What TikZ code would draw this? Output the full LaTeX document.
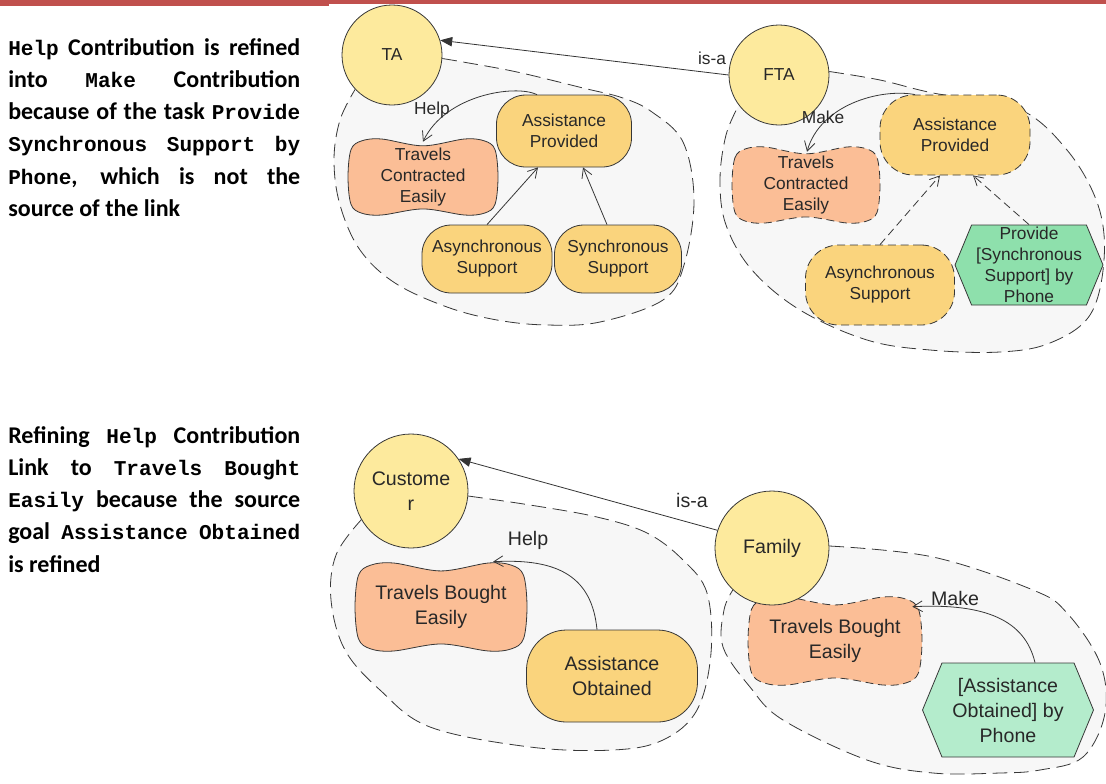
\documentclass[tikz,border=0pt]{standalone}
\usepackage{fontspec}
\setmainfont{Carlito}
\newfontfamily\diafont{Liberation Sans}
\newfontfamily\codefamily{Liberation Mono}
\usetikzlibrary{arrows.meta,shapes.symbols,calc}

\definecolor{barred}{RGB}{192,80,77}
\definecolor{actorc}{RGB}{253,234,157}
\definecolor{goalc}{RGB}{250,212,125}
\definecolor{softc}{RGB}{251,190,150}
\definecolor{taskc}{RGB}{142,224,172}
\definecolor{tasklc}{RGB}{180,236,204}
\definecolor{blobc}{RGB}{247,247,247}
\definecolor{linec}{RGB}{55,55,55}
\definecolor{inkc}{RGB}{40,40,40}

\pgfdeclarelayer{back}
\pgfdeclarelayer{shade}
\pgfsetlayers{back,shade,main}

\newcommand\codeword[1]{{\codefamily\fontsize{15.8}{24.2}\selectfont #1}}

% wavy outline of a softgoal, drawn behind the node
\newcommand\wavy[4][]{%
  \begin{pgfonlayer}{shade}
  \begin{scope}[shift={(#2.center)}, xscale=#3, yscale=#4]
  \draw[draw=linec, line width=0.6pt, fill=softc, #1] plot[smooth cycle, tension=0.55] coordinates {(-1,0) (-0.96,-0.72) (-0.82,-0.95) (-0.55,-1) (0,-0.82) (0.55,-1) (0.82,-0.95) (0.96,-0.72) (1,0) (0.96,0.72) (0.82,0.95) (0.55,1) (0,0.84) (-0.55,1) (-0.82,0.95) (-0.96,0.72)};
  \end{scope}
  \end{pgfonlayer}}

\tikzset{
  desc/.style={anchor=north west, inner sep=0pt, text width=219pt, align=justify,
    font=\fontsize{18}{24.2}\selectfont\bfseries},
  small/.style={font=\diafont\fontsize{13}{15.75}\selectfont},
  large/.style={font=\diafont\fontsize{14.7}{18.75}\selectfont},
  actor/.style={circle, draw=linec, line width=0.6pt, fill=actorc, text=inkc,
    minimum size=75pt, inner sep=0pt, align=center},
  goal/.style={rectangle, rounded corners=22pt, draw=linec, line width=0.6pt,
    fill=goalc, text=inkc, inner sep=0pt, align=center},
  softgoal/.style={rectangle, inner sep=0pt, align=center, text=inkc},
  task/.style={signal, signal to=west and east, signal pointer angle=135,
    draw=linec, line width=0.6pt, fill=taskc, text=inkc, inner sep=0pt, align=center},
  dashedge/.style={dash pattern=on 6pt off 3.5pt},
  blob/.style={draw=linec, fill=blobc, line width=0.6pt, dash pattern=on 11pt off 5pt},
  contrib/.style={draw=linec, line width=0.6pt, -{Straight Barb[length=7pt,width=8pt]}},
  isa/.style={draw=black!80, line width=0.6pt, -{Triangle[length=9pt,width=7pt]}},
  lbl/.style={text=inkc, inner sep=1pt},
}

\begin{document}
\begin{tikzpicture}[x=0.75pt,y=-0.75pt]
\useasboundingbox (0,0) rectangle (1106,783);
\fill[barred] (0,0) rectangle (1106,4);
\fill[barred] (0,0) rectangle (329,5.5);

% explanations
\node[desc] (why1) at (8,38) {\codeword{Help} Contribution is refined\linebreak
  into \codeword{Make} Contribution\linebreak
  because of the task \codeword{Provide}\linebreak
  \codeword{Synchronous} \codeword{Support} \codeword{by}\linebreak
  \codeword{Phone}, which is not the\linebreak
  source of the link};
\node[desc] (why2) at (8,426) {Refining \codeword{Help} Contribution\linebreak
  Link to \codeword{Travels} \codeword{Bought}\linebreak
  \codeword{Easily} because the source\linebreak
  goal \codeword{Assistance} \codeword{Obtained}\linebreak
  is refined};

% TA
\node[actor, small] (ta) at (392,55) {TA};
\node[softgoal, small, minimum width=112.5pt, minimum height=57pt] (tce) at (423,177) {Travels\\Contracted\\Easily};
\node[goal, small, minimum width=101.25pt, minimum height=54pt] (ap) at (564,131) {Assistance\\Provided};
\node[goal, small, minimum width=97.5pt, minimum height=51pt] (as) at (487,259) {Asynchronous\\Support};
\node[goal, small, minimum width=95.25pt, minimum height=51pt] (ss) at (618,259) {Synchronous\\Support};
\wavy{tce}{75}{38}
\draw[contrib] ($(ap.north)+(-27,0)$) .. controls (515,84) and (445,95) .. ($(tce.north)+(0,3)$);
\node[lbl, small] (help1) at (432,110) {Help};
\draw[contrib] (as.north) -- ($(ap.south)+(-26,0)$);
\draw[contrib] ($(ss.north)+(-11,0)$) -- ($(ap.south)+(19,0)$);

% FTA
\node[actor, small] (fta) at (779,75) {FTA};
\node[softgoal, small, minimum width=111pt, minimum height=57pt] (tce2) at (806,185) {Travels\\Contracted\\Easily};
\node[goal, small, dashedge, rounded corners=25pt, minimum width=112.5pt, minimum height=60pt] (ap2) at (955,135) {Assistance\\Provided};
\node[goal, small, dashedge, rounded corners=25pt, minimum width=111.75pt, minimum height=60pt] (as2) at (880,285) {Asynchronous\\Support};
\node[task, small, minimum width=111pt, minimum height=60pt] (pr) at (1029,265) {Provide\\{[}Synchronous\\Support] by\\Phone};
\wavy[dashedge]{tce2}{74}{38}
\draw[contrib] ($(ap2.north)+(-40,0)$) .. controls (880,88) and (820,105) .. ($(tce2.north)+(1,5)$);
\node[lbl, small] (make1) at (823,117) {Make};
\draw[contrib, dashedge] (as2.north) -- ($(ap2.south)+(-15,0)$);
\draw[contrib, dashedge] (pr.north) -- ($(ap2.south)+(18,0)$);

\draw[isa] (fta.180) -- (ta.17);
\node[lbl, small] (isa1) at (712,58) {is-a};

% Customer
\node[actor, large, minimum size=85.5pt] (cust) at (411,491) {Custome\\r};
\node[softgoal, large, minimum width=129pt, minimum height=66pt] (tbe) at (441,607) {Travels Bought\\Easily};
\node[goal, large, rounded corners=30pt, minimum width=128.25pt, minimum height=69pt] (ao) at (612,676) {Assistance\\Obtained};
\wavy{tbe}{86}{44}
\draw[contrib] ($(ao.north)+(-15,0)$) .. controls (592,578) and (560,558) .. ($(tbe.north)+(52,-1)$);
\node[lbl, large] (help2) at (528,540) {Help};

% Family
\node[actor, large, minimum size=85.5pt] (fam) at (772,548) {Family};
\node[softgoal, large, minimum width=130.5pt, minimum height=66pt] (tbe2) at (835,641) {Travels Bought\\Easily};
\node[task, large, fill=tasklc, minimum width=128.25pt, minimum height=70.5pt] (ph) at (1008,710) {{[}Assistance\\Obtained] by\\Phone};
\wavy[dashedge]{tbe2}{87}{44}
\draw[contrib] ($(ph.north)+(27,0)$) .. controls (1025,620) and (985,603) .. ($(tbe2.north east)+(-10,10)$);
\node[lbl, large] (make2) at (955,598) {Make};

\draw[isa] (fam.162) -- (cust.34);
\node[lbl, large] (isa2) at (692,500) {is-a};

% group boundaries
\begin{pgfonlayer}{back}
\draw[blob] plot[smooth, tension=0.6] coordinates {(ta.-4) (463,62) (517,72) (583,88) (623,98) (652,112) (683,142) (694,200) (684,265) (663,300) (600,322) (547,325) (497,320) (447,307) (395,283) (360,250) (340,205) (334,160) (340,120) (ta.-137)};
\draw[blob] plot[smooth, tension=0.6] coordinates {(fta.4) (880,80) (933,93) (1017,108) (1067,150) (1098,205) (1104,260) (1090,315) (1050,343) (1000,352) (930,350) (867,340) (800,310) (752,270) (726,225) (720,180) (726,135) (fta.-143)};
\draw[blob] plot[smooth, tension=0.6] coordinates {(cust.-5) (530,505) (597,517) (647,533) (683,560) (707,593) (711,653) (697,710) (663,740) (613,750) (530,747) (430,727) (380,690) (345,650) (331,600) (336,555) (cust.-150)};
\draw[blob] plot[smooth, tension=0.6] coordinates {(fam.2) (933,557) (1033,590) (1067,613) (1100,663) (1105,713) (1083,757) (1040,770) (1000,773) (933,773) (867,760) (783,720) (750,687) (723,647) (724,610) (fam.-133)};
\end{pgfonlayer}
\end{tikzpicture}
\end{document}
